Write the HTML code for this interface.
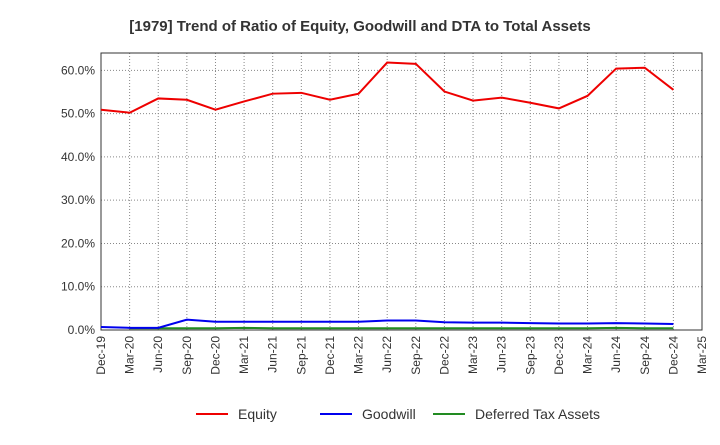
<!DOCTYPE html>
<html><head><meta charset="utf-8"><style>
body{margin:0;background:#fff;font-family:"Liberation Sans",sans-serif;}
</style></head><body>
<svg id="chart" width="720" height="440" xmlns="http://www.w3.org/2000/svg" font-family="Liberation Sans, sans-serif">
<text x="360" y="31" text-anchor="middle" font-size="15" font-weight="bold" fill="#333">[1979]  Trend of Ratio of Equity, Goodwill and DTA to Total Assets</text>
<g id="grid"></g><g id="axes"></g><g id="series"></g><g id="legend"></g>
</svg>
<script>
const xLabels=["Dec-19","Mar-20","Jun-20","Sep-20","Dec-20","Mar-21","Jun-21","Sep-21","Dec-21","Mar-22","Jun-22","Sep-22","Dec-22","Mar-23","Jun-23","Sep-23","Dec-23","Mar-24","Jun-24","Sep-24","Dec-24","Mar-25"];
const yTicks=[0,10,20,30,40,50,60];
const equity=[50.9,50.2,53.5,53.2,50.9,52.8,54.6,54.8,53.2,54.6,61.8,61.5,55.1,53.0,53.7,52.5,51.2,54.1,60.4,60.6,55.5];
const goodwill=[0.7,0.5,0.5,2.4,1.9,1.9,1.9,1.9,1.9,1.9,2.2,2.2,1.8,1.7,1.7,1.6,1.5,1.5,1.6,1.5,1.4];
const dta=[null,0.4,0.4,0.4,0.4,0.5,0.4,0.4,0.4,0.4,0.4,0.4,0.4,0.4,0.4,0.4,0.4,0.4,0.5,0.4,0.4];
const L=101,R=702,T=53,B=330,yMax=64;
const ns="http://www.w3.org/2000/svg";
const X=i=>L+i*(R-L)/(xLabels.length-1);
const Y=v=>B-v/yMax*(B-T);
function mk(t,a,p){const e=document.createElementNS(ns,t);for(const k in a)e.setAttribute(k,a[k]);p.appendChild(e);return e;}
const g=document.getElementById('grid'),ax=document.getElementById('axes'),s=document.getElementById('series'),lg=document.getElementById('legend');
mk('rect',{x:L,y:T,width:R-L,height:B-T,fill:'#fff'},g);
xLabels.forEach((lab,i)=>{
 const l=mk('line',{x1:X(i),x2:X(i),y1:T,y2:B,stroke:'#888','stroke-dasharray':'1,2','stroke-width':1},g);
 
 
 const t=mk('text',{x:0,y:0,'font-size':12,fill:'#333','text-anchor':'end',transform:`translate(${X(i)+4},${B+6}) rotate(-90)`},ax);
 t.textContent=lab;
 
 
});
yTicks.forEach(v=>{
 const l=mk('line',{x1:L,x2:R,y1:Y(v),y2:Y(v),stroke:'#888','stroke-dasharray':'1,2','stroke-width':1},g);
 
 
 const t=mk('text',{x:L-6,y:Y(v)+4,'font-size':12,fill:'#333','text-anchor':'end'},ax);
 t.textContent=v.toFixed(1)+'%';
 
 
});
const fr=mk('rect',{x:L,y:T,width:R-L,height:B-T,fill:'none',stroke:'#333','stroke-width':1},ax);


function line(arr,color,name){
 let d='';arr.forEach((v,i)=>{if(v==null)return;d+=(d?'L':'M')+X(i)+','+Y(v);});
 const p=mk('path',{d:d,fill:'none',stroke:color,'stroke-width':2},s);
 
 
}
line(dta,'#228b22','deferred-tax-assets-line');
line(goodwill,'#0000ee','goodwill-line');
line(equity,'#ee0000','equity-line');
[["Equity","#ee0000",196,"legend-equity"],["Goodwill","#0000ee",320,"legend-goodwill"],["Deferred Tax Assets","#228b22",433,"legend-dta"]].forEach(([n,c,x,dn])=>{
 const gg=mk('g',{},lg);
 
 
 mk('line',{x1:x,x2:x+32,y1:414,y2:414,stroke:c,'stroke-width':2},gg);
 const t=mk('text',{x:x+42,y:419,'font-size':14,fill:'#333'},gg);t.textContent=n;
});
</script>
</body></html>
